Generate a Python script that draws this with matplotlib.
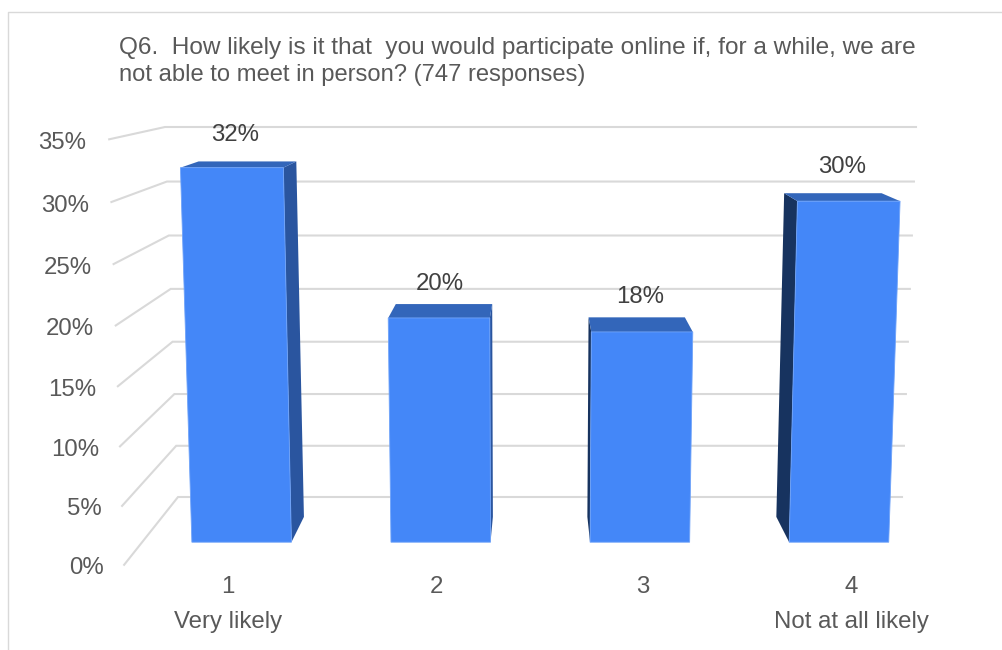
import matplotlib
matplotlib.use('Agg')
import matplotlib.pyplot as plt
from matplotlib.patches import Polygon

plt.rcParams['font.family'] = ['Liberation Sans', 'DejaVu Sans']

title_lines = ['Q6.  How likely is it that  you would participate online if, for a while, we are',
               'not able to meet in person? (747 responses)']
title_sizes = [17.6, 17.1]
ticks = [0, 5, 10, 15, 20, 25, 30, 35]
categories = ['1', '2', '3', '4']
sublabels = ['Very likely', '', '', 'Not at all likely']
values = [32.3, 19.6, 18.4, 29.5]
bar_labels = ['32%', '20%', '18%', '30%']

# back wall corners in pixels, everything else is scaled from the vanishing point
VP = (537, 45)
BOT_Y, TOP_Y = 497, 127
BOT_L, BOT_R = 178, 902
TOP_L, TOP_R = 165, 916
VMAX = 35
S_WALL = 1.15      # front of the side wall / floor
S_BAR_BACK = 1.044
S_BAR_FRONT = 1.10
BAR_W = 0.5

GRID = '#D9D9D9'
FRONT = '#4487F8'
TOP = '#3366BA'
RIGHT_SIDE = '#2A559F'
LEFT_SIDE = '#17335F'


def project(x, v, s=1.0):
    # x in category units (0-4), v in percent, s = depth scale
    r = (TOP_R - TOP_L) / (BOT_R - BOT_L)
    t = v / VMAX
    u = t / ((1 - t) * r + t)
    y = BOT_Y + u * (TOP_Y - BOT_Y)
    left = BOT_L + u * (TOP_L - BOT_L)
    right = BOT_R + u * (TOP_R - BOT_R)
    px = left + x / 4 * (right - left)
    return VP[0] + s * (px - VP[0]), VP[1] + s * (y - VP[1])


fig = plt.figure(figsize=(10.03, 6.5), dpi=100)
ax = fig.add_axes([0, 0, 1, 1])
ax.set_xlim(0, 1003)
ax.set_ylim(650, 0)
ax.axis('off')

# outer frame
ax.plot([8, 8, 1003], [650, 12, 12], color=GRID, lw=1.0, zorder=1)

for i, line in enumerate(title_lines):
    ax.text(119, 48 + i * 27.5, line, fontsize=title_sizes[i], color='#595959', ha='left', va='center')

# grid and value axis labels
for tick in ticks:
    p0 = project(0, tick, S_WALL)
    p1 = project(0, tick)
    p2 = project(4, tick)
    ax.plot([p0[0], p1[0], p2[0]], [p0[1], p1[1], p2[1]], color=GRID, lw=1.5, zorder=2,
            solid_joinstyle='miter')
    ax.text(p0[0] - 20 - 3 * tick / VMAX, p0[1] + 1 + 2 + tick / VMAX, f'{tick}%', fontsize=17.3,
            color='#595959', ha='right', va='center')

label_offsets = [(3, -26), (1, -20), (-2, -20), (-7, -26)]
cat_nudge = [0, 0, -2, -1]

for i, val in enumerate(values):
    x0 = i + 0.5 - BAR_W / 2
    x1 = i + 0.5 + BAR_W / 2

    fbl = project(x0, 0, S_BAR_FRONT)
    fbr = project(x1, 0, S_BAR_FRONT)
    ftl = project(x0, val, S_BAR_FRONT)
    ftr = project(x1, val, S_BAR_FRONT)
    bbl = project(x0, 0, S_BAR_BACK)
    bbr = project(x1, 0, S_BAR_BACK)
    btl = project(x0, val, S_BAR_BACK)
    btr = project(x1, val, S_BAR_BACK)

    # which side shows depends on which side of the vanishing point the bar is
    if fbr[0] < VP[0]:
        side = [fbr, ftr, btr, bbr]
        side_col = RIGHT_SIDE
    else:
        side = [fbl, ftl, btl, bbl]
        side_col = LEFT_SIDE
    ax.add_patch(Polygon(side, closed=True, fc=side_col, ec='none', zorder=3))
    ax.add_patch(Polygon([ftl, ftr, btr, btl], closed=True, fc=TOP, ec='none', zorder=4))
    ax.add_patch(Polygon([fbl, fbr, ftr, ftl], closed=True, fc=FRONT, ec='#6FA3F9', lw=0.6, zorder=5))

    dx, dy = label_offsets[i]
    ax.text(ftl[0] / 2 + ftr[0] / 2 + dx, btl[1] + dy, bar_labels[i], fontsize=17.3,
            color='#404040', ha='center', va='center', zorder=6)

    # category labels sit under the front edge of the floor
    cx, cy = project(i + 0.5, 0, S_WALL)
    cx += cat_nudge[i]
    ax.text(cx, cy + 22, categories[i], fontsize=17.3, color='#595959', ha='center', va='center')
    if sublabels[i]:
        ax.text(cx, cy + 57, sublabels[i], fontsize=17.3, color='#595959', ha='center', va='center')

fig.savefig('out.png', dpi=100)
